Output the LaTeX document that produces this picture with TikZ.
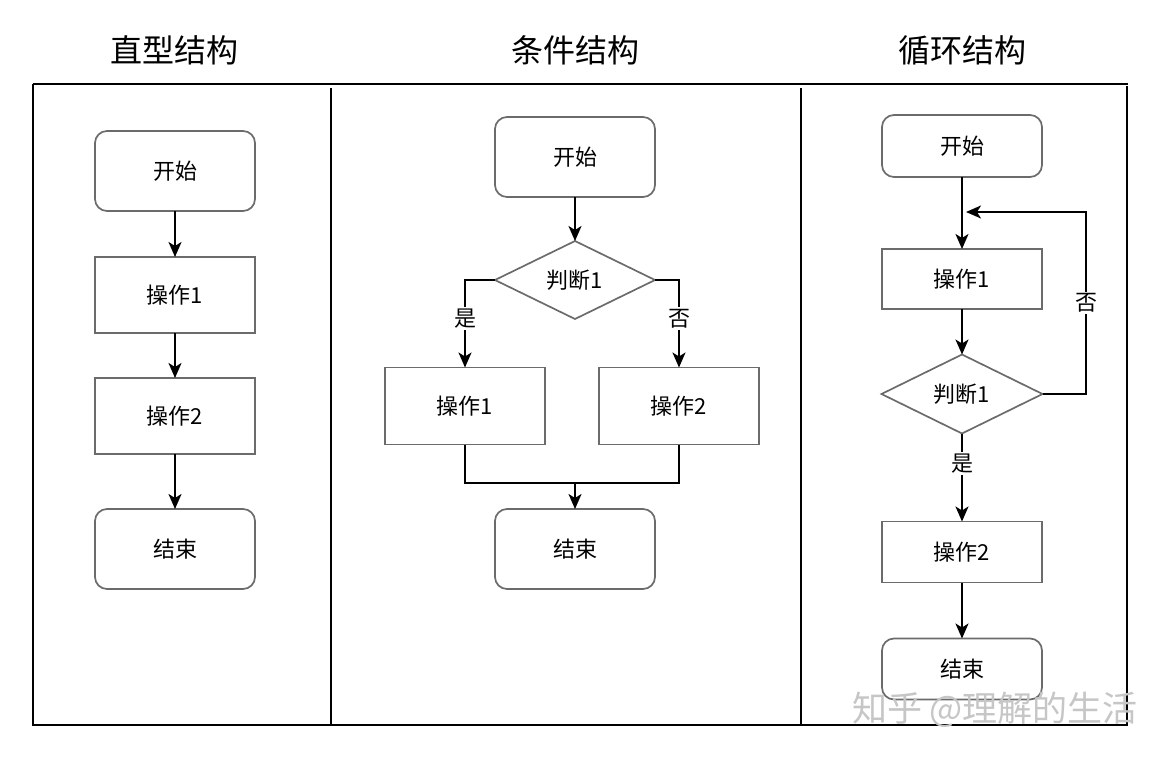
\documentclass[tikz,border=0pt]{standalone}
\usepackage{fontspec}
\setmainfont{Noto Sans CJK SC}
\usetikzlibrary{shapes.geometric,arrows.meta}
\definecolor{boxgray}{HTML}{6B6B6B}
\begin{document}
\begin{tikzpicture}[x=1pt,y=-1pt,
  box/.style={draw=boxgray, line width=1.7pt, minimum width=160pt, minimum height=76pt, inner sep=0pt, outer sep=0pt, font=\fontsize{22}{26}\selectfont},
  rbox/.style={box, rounded corners=12pt},
  dia/.style={diamond, draw=boxgray, line width=1.7pt, minimum width=160pt, minimum height=78pt, inner sep=0pt, outer sep=0pt, font=\fontsize{22}{26}\selectfont},
  link/.style={line width=2pt, -{Stealth[length=15pt,width=13pt,inset=4pt]}},
  wire/.style={line width=2pt},
  frameline/.style={line width=2.6pt},
  ttl/.style={font=\fontsize{32}{38}\selectfont},
  lbl/.style={fill=white, font=\fontsize{22}{26}\selectfont, inner sep=2pt}]
\useasboundingbox (0,0) rectangle (1168,758);
% frame
\draw[frameline] (33,84) -- (1128,84);
\draw[frameline] (33,84) -- (33,725) -- (1128,725);
\draw[frameline] (331,88) -- (331,725);
\draw[frameline] (801,88) -- (801,725);
\draw[frameline] (1127,86) -- (1127,725);
% titles
\node[ttl] (t1) at (174,50) {直型结构};
\node[ttl] (t2) at (575,50) {条件结构};
\node[ttl] (t3) at (962,50) {循环结构};
% column 1
\node[rbox, minimum height=80pt] (a1) at (175,171) {开始};
\node[box] (a2) at (175,295) {操作1};
\node[box] (a3) at (175,416) {操作2};
\node[rbox, minimum height=80pt] (a4) at (175,549) {结束};
\draw[link] (a1) -- (a2);
\draw[link] (a2) -- (a3);
\draw[link] (a3) -- (a4);
% column 2
\node[rbox, minimum height=80pt] (b1) at (575,157) {开始};
\node[dia] (b2) at (575,280) {判断1};
\node[box, minimum height=77pt] (b3) at (465,406) {操作1};
\node[box, minimum height=77pt] (b4) at (679,406) {操作2};
\node[rbox, minimum height=80pt] (b5) at (575,549) {结束};
\coordinate (bm) at (575,483);
\draw[link] (b1) -- (b2);
\draw[link] (b2.west) -| node[lbl, pos=0.72] {是} (b3.north);
\draw[link] (b2.east) -| node[lbl, pos=0.72] {否} (b4.north);
\draw[wire] (b3.south) |- (bm) -| (b4.south);
\draw[link] (bm) -- (b5);
% column 3
\node[rbox, minimum height=62pt] (c1) at (962,146) {开始};
\node[box, minimum height=60pt] (c2) at (962,279) {操作1};
\node[dia, minimum width=161pt, minimum height=79pt] (c3) at (962,394) {判断1};
\node[box, minimum height=61pt] (c4) at (962,552) {操作2};
\node[rbox, minimum height=61pt] (c5) at (962,669) {结束};
\coordinate (cr) at (1086,212);
\coordinate (ce) at (966,212);
\draw[link] (c1) -- (c2);
\draw[link] (c2) -- (c3);
\draw[link] (c3) -- node[lbl, pos=0.34] {是} (c4);
\draw[link] (c4) -- (c5);
\draw[link] (c3.east) -- (c3.east -| cr) -- node[lbl] {否} (cr) -- (ce);
% watermark
\node[text=gray!45, font=\fontsize{35}{40}\selectfont, inner sep=0pt] (wm) at (995,710) {知乎 @理解的生活};
\end{tikzpicture}
\end{document}
